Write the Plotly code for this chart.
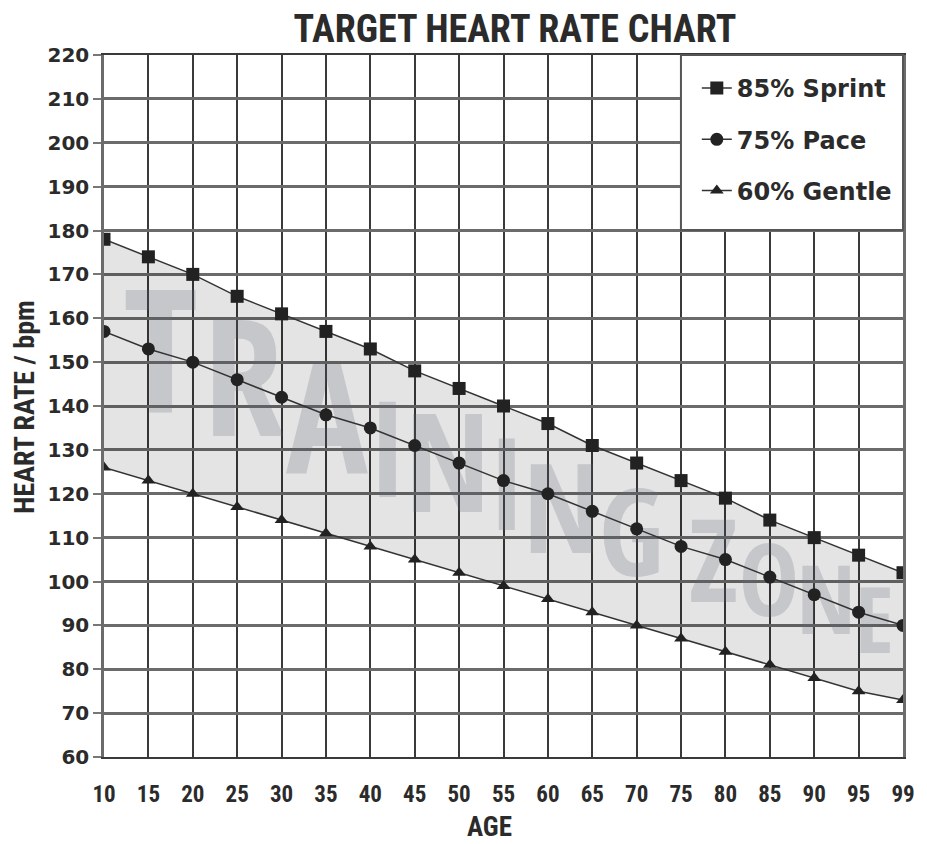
import numpy as np
import plotly.graph_objects as go

# ---------------- data ----------------
ages = ["10", "15", "20", "25", "30", "35", "40", "45", "50", "55",
        "60", "65", "70", "75", "80", "85", "90", "95", "99"]
sprint_85 = [178, 174, 170, 165, 161, 157, 153, 148, 144, 140,
             136, 131, 127, 123, 119, 114, 110, 106, 102]
pace_75 = [157, 153, 150, 146, 142, 138, 135, 131, 127, 123,
           120, 116, 112, 108, 105, 101, 97, 93, 90]
gentle_60 = [126, 123, 120, 117, 114, 111, 108, 105, 102, 99,
             96, 93, 90, 87, 84, 81, 78, 75, 73]
y_ticks = list(range(60, 221, 10))
watermark = "TRAINING ZONE"

# ---------------- layout geometry (page pixels) ----------------
OFF = 8                      # default body margin of the html page
W, H = 927 - OFF, 844 - OFF
PL, PT, PR, PB = 104, 55, 910, 757   # plot area on the page
PW, PH = PR - PL, PB - PT
xi = list(range(len(ages)))
XMAX = len(ages) - 1


def px2x(px):
    return (px - PL) / PW * XMAX


def py2y(py):
    return 60 + (PB - py) / PH * 160


def ppx(px):            # page x -> paper x
    return (px - PL) / PW


def ppy(py):            # page y -> paper y
    return (PB - py) / PH


COND = "Roboto Condensed, DejaVu Sans Condensed, sans-serif"
WM = "Open Sans Condensed, Roboto Condensed, sans-serif"
WIDE = "DejaVu Sans, Verdana, sans-serif"
INK = "#2b2b2b"

fig = go.Figure()

# shaded training zone between 60% and 85%
fig.add_trace(go.Scatter(x=xi, y=gentle_60, mode="lines", line=dict(width=0),
                         showlegend=False, hoverinfo="skip"))
fig.add_trace(go.Scatter(x=xi, y=sprint_85, mode="lines", line=dict(width=0),
                         fill="tonexty", fillcolor="rgba(0,0,0,0.105)",
                         showlegend=False, hoverinfo="skip"))

# watermark letters laid along the band, shrinking to the right (perspective)
letters = [c for c in watermark if c != " "]
adv = {"T": .48, "R": .52, "A": .55, "I": .29, "N": .6, "G": .55,
       "Z": .46, "O": .58, "E": .44}
prof = [1, .94, .89, .77, .8, .74, .72, .7, .67, .59, .55, .53]
S = 172
sizes = [S * p for p in prof]
ref_cx = [170, 278, 373, 438, 497, 551, 600, 665, 745, 801, 843, 886]
ref_cy = [369, 408, 460, 473, 493, 516, 535, 555, 582, 598, 615, 632]
cx = []
cur = 120
for i, (ch, s) in enumerate(zip(letters, sizes)):
    w = adv[ch] * s
    if i == 8:
        cur += 0.2 * s
    cx.append(cur + w / 2)
    cur += w
cy = list(np.interp(cx, ref_cx, ref_cy))
fig.add_trace(go.Scatter(
    x=[px2x(v) for v in cx], y=[py2y(v) for v in cy], mode="text",
    text=letters, textposition="middle center",
    textfont=dict(family=WM, size=sizes, color="rgba(95,105,118,0.23)",
                  weight="bold"),
    showlegend=False, hoverinfo="skip"))

series = [("85% Sprint", sprint_85, "square", 13),
          ("75% Pace", pace_75, "circle", 13),
          ("60% Gentle", gentle_60, "triangle-up", 12)]
for name, vals, sym, ms in series:
    fig.add_trace(go.Scatter(
        x=xi, y=vals, mode="lines+markers", name=name, legendgroup=name,
        line=dict(color="#333333", width=1.5),
        marker=dict(symbol=sym, size=ms, color="#222222"),
    ))

# legend box
fig.add_shape(type="rect", xref="paper", yref="paper",
              x0=ppx(686), x1=1.0, y0=ppy(230), y1=1.0,
              fillcolor="white", line=dict(color="#555555", width=2),
              layer="above")

fig.update_layout(
    width=W, height=H,
    margin=dict(l=PL - OFF, r=927 - PR, t=PT - OFF, b=844 - PB),
    paper_bgcolor="white", plot_bgcolor="white",
    title=dict(text="<b>TARGET HEART RATE CHART</b>", x=(515 - OFF) / W,
               xref="container", xanchor="center", y=1 - (29 - OFF) / H,
               yref="container", yanchor="middle",
               font=dict(family=COND, size=38, color=INK)),
    showlegend=True,
    legend=dict(x=ppx(702), xanchor="left", y=ppy(66), yanchor="top",
                bgcolor="rgba(0,0,0,0)", borderwidth=0,
                font=dict(family=WIDE, size=24, color=INK, weight="bold"),
                tracegroupgap=17, traceorder="grouped"),
    font=dict(family=WIDE, color=INK),
)

fig.update_xaxes(range=[0, XMAX], tickvals=xi, ticktext=ages,
                 showgrid=True, gridcolor="#3a3a3a", gridwidth=1.6,
                 zeroline=False, showline=True, linecolor="#3a3a3a", linewidth=1.6,
                 mirror=True, ticks="", ticklabelstandoff=16,
                 tickfont=dict(family=COND, size=23, color=INK, weight="bold"))
fig.update_yaxes(range=[60, 220], tickvals=y_ticks,
                 showgrid=True, gridcolor="#6b6b6b", gridwidth=2.5,
                 zeroline=False, showline=True, linecolor="#6b6b6b", linewidth=2.5,
                 mirror=True, ticks="outside", ticklen=8, tickcolor="#777777",
                 tickwidth=2, ticklabelstandoff=0,
                 tickfont=dict(family=WIDE, size=20, color=INK, weight="bold"))

fig.add_annotation(text="<b>AGE</b>", xref="paper", yref="paper",
                   x=ppx(493), y=ppy(827), xanchor="center",
                   yanchor="middle", showarrow=False,
                   font=dict(family=COND, size=27, color=INK))
fig.add_annotation(text="<b>HEART RATE / bpm</b>", xref="paper", yref="paper",
                   x=ppx(24), y=ppy(407), xanchor="center",
                   yanchor="middle", textangle=-90, showarrow=False,
                   font=dict(family=COND, size=28, color=INK))

fig.write_html("out.html")
